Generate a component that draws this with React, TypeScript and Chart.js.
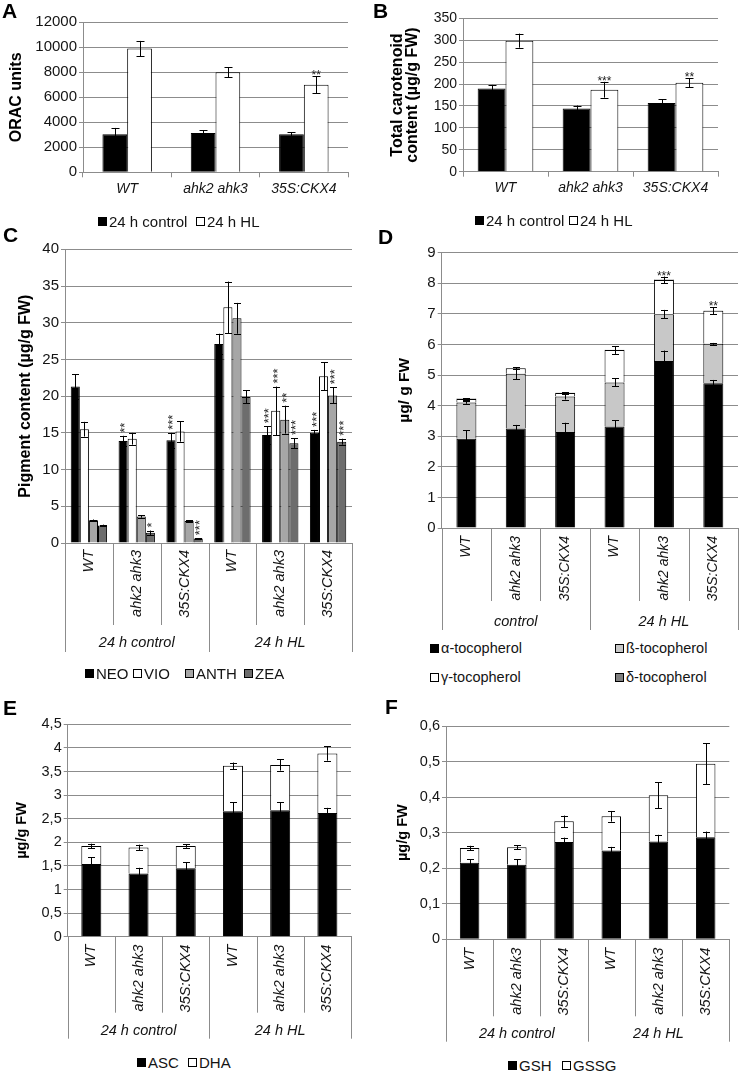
import React, { useEffect, useRef } from 'react';
import { Chart, registerables } from 'chart.js';

Chart.register(...registerables);

const FONT = '"Liberation Sans", Arial, Helvetica, sans-serif';
const GRID = '#8c8c8c';
const TXT = '#141414';

// ---------- data ----------
const genotypes = ['WT', 'ahk2 ahk3', '35S:CKX4'];
const genotypes6 = ['WT', 'ahk2 ahk3', '35S:CKX4', 'WT', 'ahk2 ahk3', '35S:CKX4'];
const periodsCEF = ['24 h control', '24 h HL'];
const periodsD = ['control', '24 h HL'];
const treatmentLabels = ['24 h control', '24 h HL'];

// A: ORAC units
const oracControl = [3050, 3150, 3050];
const oracControlErr = [500, 220, 170];
const oracHL = [9900, 8000, 7000];
const oracHLErr = [610, 400, 670];
const oracHLSig = ['', '', '**'];

// B: total carotenoids
const carControl = [190, 144, 157];
const carControlErr = [8, 7, 8];
const carHL = [299, 187, 203];
const carHLErr = [16, 18, 10];
const carHLSig = ['', '***', '**'];

// C: pigments
const pigmentNames = ['NEO', 'VIO', 'ANTH', 'ZEA'];
const neo = [21.3, 13.9, 14.0, 27.1, 14.7, 15.0];
const neoErr = [1.7, 0.7, 1.0, 1.4, 1.2, 0.4];
const neoSig = ['', '**', '***', '', '***', '***'];
const vio = [15.5, 14.2, 15.2, 32.1, 18.0, 22.7];
const vioErr = [1.0, 0.8, 1.4, 3.5, 3.3, 1.9];
const vioSig = ['', '', '', '', '***', ''];
const anth = [3.1, 3.6, 3.0, 30.6, 16.8, 20.1];
const anthErr = [0.1, 0.15, 0.1, 2.1, 1.9, 1.1];
const anthSig = ['', '', '', '', '**', '***'];
const zea = [2.4, 1.4, 0.6, 19.9, 13.6, 13.8];
const zeaErr = [0.1, 0.3, 0.05, 0.9, 0.7, 0.4];
const zeaSig = ['', '*', '***', '', '***', '***'];

// D: tocopherols
const tocoNames = ['α-tocopherol', 'ß-tocopherol', 'γ-tocopherol', 'δ-tocopherol'];
const alphaT = [2.92, 3.25, 3.14, 3.32, 5.46, 4.73];
const alphaTErr = [0.27, 0.12, 0.3, 0.2, 0.34, 0.11];
const betaT = [1.18, 1.79, 1.16, 1.44, 1.53, 1.29];
const betaTErr = [0.04, 0.17, 0.1, 0.13, 0.14, 0.03];
const gammaT = [0.12, 0.18, 0.11, 1.06, 1.12, 1.08];
const gammaTErr = [0.02, 0.03, 0.03, 0.13, 0.11, 0.12];
const gammaTSig = ['', '', '', '', '***', '**'];
const deltaT = [0.01, 0.01, 0.01, 0.01, 0.01, 0.01];

// E: ascorbate
const ascNames = ['ASC', 'DHA'];
const asc = [1.54, 1.34, 1.45, 2.66, 2.68, 2.62];
const ascErr = [0.14, 0.12, 0.13, 0.19, 0.17, 0.11];
const dha = [0.38, 0.55, 0.47, 0.96, 0.96, 1.26];
const dhaErr = [0.05, 0.06, 0.035, 0.07, 0.12, 0.15];

// F: glutathione
const gshNames = ['GSH', 'GSSG'];
const gsh = [0.215, 0.21, 0.274, 0.25, 0.275, 0.287];
const gshErr = [0.01, 0.015, 0.012, 0.01, 0.019, 0.016];
const gssg = [0.042, 0.049, 0.058, 0.096, 0.13, 0.207];
const gssgErr = [0.006, 0.006, 0.016, 0.015, 0.037, 0.058];

// ---------- colours ----------
const BLACK = '#000000';
const WHITE = '#ffffff';
const ANTH_GRAY = '#a6a6a6';
const ZEA_GRAY = '#6d6d6d';
const BETA_GRAY = '#c8c8c8';
const DELTA_GRAY = '#7f7f7f';

// ---------- plugins ----------
const errorBarPlugin = {
  id: 'errbars',
  afterDatasetsDraw(chart: any, _args: any, opts: any) {
    const { ctx } = chart;
    const ys = chart.scales.y;
    const cap = opts.cap ?? 4;
    const pxFor = (e: number) => Math.abs(ys.getPixelForValue(0) - ys.getPixelForValue(e));
    ctx.save();
    ctx.strokeStyle = '#000';
    ctx.lineWidth = 1;
    chart.data.datasets.forEach((ds: any, di: number) => {
      if (!ds.errors) return;
      const meta = chart.getDatasetMeta(di);
      meta.data.forEach((el: any, i: number) => {
        const e = ds.errors[i];
        if (!e) return;
        const px = pxFor(e);
        const x = Math.round(el.x) + 0.5;
        const t = el.y;
        ctx.beginPath();
        ctx.moveTo(x, t - px);
        ctx.lineTo(x, t + px);
        ctx.moveTo(x - cap, Math.round(t - px) + 0.5);
        ctx.lineTo(x + cap, Math.round(t - px) + 0.5);
        ctx.moveTo(x - cap, Math.round(t + px) + 0.5);
        ctx.lineTo(x + cap, Math.round(t + px) + 0.5);
        ctx.stroke();
      });
    });
    ctx.fillStyle = '#222';
    ctx.font = `${opts.sigSize ?? 12}px ${FONT}`;
    chart.data.datasets.forEach((ds: any, di: number) => {
      if (!ds.sig) return;
      const meta = chart.getDatasetMeta(di);
      meta.data.forEach((el: any, i: number) => {
        const s = ds.sig[i];
        if (!s) return;
        const e = ds.errors ? ds.errors[i] || 0 : 0;
        const top = el.y - pxFor(e);
        if (opts.sigRotate) {
          ctx.save();
          ctx.translate(el.x + 2.5, top - 3);
          ctx.rotate(-Math.PI / 2);
          ctx.textAlign = 'left';
          ctx.textBaseline = 'middle';
          ctx.fillText(s, 0, 0);
          ctx.restore();
        } else {
          ctx.textAlign = 'center';
          ctx.textBaseline = 'alphabetic';
          ctx.fillText(s, el.x, top + 3);
        }
      });
    });
    ctx.restore();
  },
};

const groupAxisPlugin = {
  id: 'groupAxis',
  afterDraw(chart: any, _args: any, opts: any) {
    const { ctx } = chart;
    const xs = chart.scales.x;
    const n = chart.data.labels.length;
    const groups: string[] = opts.groups;
    const size = n / groups.length;
    const w = (xs.right - xs.left) / n;
    const y0 = chart.chartArea.bottom;
    ctx.save();
    ctx.strokeStyle = GRID;
    ctx.lineWidth = 1;
    for (let k = 0; k <= n; k++) {
      const px = Math.round(xs.left + k * w) + 0.5;
      const len = k % size === 0 ? opts.outer : opts.inner;
      ctx.beginPath();
      ctx.moveTo(px, y0);
      ctx.lineTo(px, y0 + len);
      ctx.stroke();
    }
    ctx.fillStyle = TXT;
    ctx.font = `italic ${opts.fontSize}px ${FONT}`;
    ctx.textAlign = 'center';
    ctx.textBaseline = 'middle';
    groups.forEach((g, gi) => {
      const cx = xs.left + (gi * size + size / 2) * w;
      ctx.fillText(g, cx, y0 + opts.labelY);
    });
    ctx.restore();
  },
};

// ---------- panel layout ----------
type Spec = {
  left: number; top: number; w: number; h: number;
  area: { l: number; t: number; r: number; b: number };
  title: string | string[]; titleX: number; titleSize: number; titleLH: number;
  yMax: number; yStep: number; tickSize: number; comma?: boolean;
  labels: string[]; xSize: number; xPad: number;
  datasets: any[]; stacked: boolean; catPct: number; barPct: number;
  cap: number; sigRotate?: boolean; sigSize?: number;
  groups?: string[]; groupOpts?: { inner: number; outer: number; labelY: number; fontSize: number };
};

function buildConfig(p: Spec): any {
  const titleLine = p.titleSize * p.titleLH;
  const padLeft = p.titleX - p.left - (titleLine / 2 + 4);
  const padTop = p.area.t - p.top;
  const padRight = p.left + p.w - p.area.r;
  const yWidth = p.area.l - p.left - padLeft;
  const xHeight = p.top + p.h - p.area.b;
  const rotated = !!p.groups;
  return {
    type: 'bar',
    data: { labels: p.labels, datasets: p.datasets },
    options: {
      responsive: false,
      maintainAspectRatio: false,
      animation: false,
      devicePixelRatio: 1,
      layout: { padding: { left: padLeft, top: padTop, right: padRight, bottom: 0 } },
      datasets: { bar: { categoryPercentage: p.catPct, barPercentage: p.barPct, borderColor: '#000', borderWidth: 1 } },
      plugins: {
        legend: { display: false },
        tooltip: { enabled: false },
        errbars: { cap: p.cap, sigRotate: p.sigRotate, sigSize: p.sigSize },
        groupAxis: { groups: p.groups, ...(p.groupOpts || {}) },
      },
      scales: {
        x: {
          stacked: p.stacked,
          offset: true,
          grid: { offset: true, drawOnChartArea: false, drawTicks: !rotated, tickLength: 5, color: GRID, lineWidth: 1 },
          border: { display: true, color: GRID, width: 1 },
          ticks: {
            autoSkip: false,
            minRotation: rotated ? 90 : 0,
            maxRotation: rotated ? 90 : 0,
            padding: p.xPad,
            color: TXT,
            font: { family: FONT, size: p.xSize, style: 'italic' },
          },
          afterFit: (s: any) => { s.height = xHeight; },
        },
        y: {
          stacked: p.stacked,
          min: 0,
          max: p.yMax,
          ticks: {
            stepSize: p.yStep,
            padding: 2,
            color: TXT,
            font: { family: FONT, size: p.tickSize },
            callback: (v: number) => {
              const r = Math.round(v * 1000) / 1000;
              return p.comma ? String(r).replace('.', ',') : String(r);
            },
          },
          grid: { color: GRID, lineWidth: 1, drawTicks: true, tickLength: 4 },
          border: { display: true, color: GRID, width: 1 },
          title: {
            display: true,
            text: p.title,
            color: '#000',
            padding: { top: 4, bottom: 4 },
            font: { family: FONT, size: p.titleSize, weight: 'bold', lineHeight: p.titleLH },
          },
          afterFit: (s: any) => { s.width = yWidth; },
        },
      },
    },
    plugins: rotated ? [errorBarPlugin, groupAxisPlugin] : [errorBarPlugin],
  };
}

const bar = (label: string, data: number[], color: string, errors?: number[], sig?: string[]) => ({
  label, data, backgroundColor: color, borderColor: '#000', borderWidth: 1, errors, sig,
});

const specs: Spec[] = [
  {
    left: 0, top: 0, w: 370, h: 205,
    area: { l: 83, t: 22.3, r: 348, b: 172.3 },
    title: 'ORAC units', titleX: 17, titleSize: 16, titleLH: 1.2,
    yMax: 12000, yStep: 2000, tickSize: 15,
    labels: genotypes, xSize: 14, xPad: 3,
    datasets: [
      bar(treatmentLabels[0], oracControl, BLACK, oracControlErr),
      bar(treatmentLabels[1], oracHL, WHITE, oracHLErr, oracHLSig),
    ],
    stacked: false, catPct: 0.56, barPct: 1, cap: 4, sigSize: 12,
  },
  {
    left: 370, top: 0, w: 370, h: 205,
    area: { l: 463, t: 18.3, r: 718, b: 171.7 },
    title: ['Total carotenoid', 'content (µg/g FW)'], titleX: 398, titleSize: 16, titleLH: 0.94,
    yMax: 350, yStep: 50, tickSize: 14,
    labels: genotypes, xSize: 14, xPad: 3,
    datasets: [
      bar(treatmentLabels[0], carControl, BLACK, carControlErr),
      bar(treatmentLabels[1], carHL, WHITE, carHLErr, carHLSig),
    ],
    stacked: false, catPct: 0.655, barPct: 1, cap: 4, sigSize: 12,
  },
  {
    left: 0, top: 225, w: 370, h: 440,
    area: { l: 65, t: 249.3, r: 352, b: 543 },
    title: 'Pigment content (µg/g FW)', titleX: 26, titleSize: 16, titleLH: 1.2,
    yMax: 40, yStep: 5, tickSize: 15,
    labels: genotypes6, xSize: 14.5, xPad: 7,
    datasets: [
      bar(pigmentNames[0], neo, BLACK, neoErr, neoSig),
      bar(pigmentNames[1], vio, WHITE, vioErr, vioSig),
      bar(pigmentNames[2], anth, ANTH_GRAY, anthErr, anthSig),
      bar(pigmentNames[3], zea, ZEA_GRAY, zeaErr, zeaSig),
    ],
    stacked: false, catPct: 0.76, barPct: 1, cap: 3.5, sigRotate: true, sigSize: 13,
    groups: periodsCEF, groupOpts: { inner: 82, outer: 109, labelY: 100, fontSize: 14.5 },
  },
  {
    left: 370, top: 228, w: 370, h: 410,
    area: { l: 441.7, t: 252.7, r: 738, b: 528 },
    title: 'µg/ g FW', titleX: 405, titleSize: 15.5, titleLH: 1.2,
    yMax: 9, yStep: 1, tickSize: 15,
    labels: genotypes6, xSize: 14, xPad: 8,
    datasets: [
      bar(tocoNames[0], alphaT, BLACK, alphaTErr),
      bar(tocoNames[1], betaT, BETA_GRAY, betaTErr),
      bar(tocoNames[2], gammaT, WHITE, gammaTErr, gammaTSig),
      bar(tocoNames[3], deltaT, DELTA_GRAY),
    ],
    stacked: true, catPct: 1, barPct: 0.405, cap: 3.5, sigSize: 12,
    groups: periodsD, groupOpts: { inner: 73, outer: 102, labelY: 94, fontSize: 14.5 },
  },
  {
    left: 0, top: 695, w: 370, h: 355,
    area: { l: 67.7, t: 724.3, r: 351, b: 936.7 },
    title: 'µg/g FW', titleX: 21.7, titleSize: 14.5, titleLH: 1.2,
    yMax: 4.5, yStep: 0.5, tickSize: 14.5, comma: true,
    labels: genotypes6, xSize: 14.5, xPad: 8,
    datasets: [
      bar(ascNames[0], asc, BLACK, ascErr),
      bar(ascNames[1], dha, WHITE, dhaErr),
    ],
    stacked: true, catPct: 1, barPct: 0.424, cap: 3.5,
    groups: periodsCEF, groupOpts: { inner: 76, outer: 102, labelY: 94, fontSize: 14.5 },
  },
  {
    left: 370, top: 695, w: 370, h: 355,
    area: { l: 446, t: 726, r: 729.3, b: 939.3 },
    title: 'µg/g FW', titleX: 403, titleSize: 14.5, titleLH: 1.2,
    yMax: 0.6, yStep: 0.1, tickSize: 14.5, comma: true,
    labels: genotypes6, xSize: 14.5, xPad: 8.5,
    datasets: [
      bar(gshNames[0], gsh, BLACK, gshErr),
      bar(gshNames[1], gssg, WHITE, gssgErr),
    ],
    stacked: true, catPct: 1, barPct: 0.413, cap: 3.5,
    groups: periodsCEF, groupOpts: { inner: 77, outer: 102.4, labelY: 94.7, fontSize: 14.5 },
  },
];

// ---------- legends & panel letters ----------
type LegendItem = { text: string; color: string; x: number; y: number; size: number };
const legends: LegendItem[] = [
  { text: treatmentLabels[0], color: BLACK, x: 98, y: 221, size: 15 },
  { text: treatmentLabels[1], color: WHITE, x: 196, y: 221, size: 15 },
  { text: treatmentLabels[0], color: BLACK, x: 475, y: 220, size: 15 },
  { text: treatmentLabels[1], color: WHITE, x: 569, y: 220, size: 15 },
  { text: pigmentNames[0], color: BLACK, x: 85, y: 673, size: 15 },
  { text: pigmentNames[1], color: WHITE, x: 133, y: 673, size: 15 },
  { text: pigmentNames[2], color: ANTH_GRAY, x: 185, y: 673, size: 15 },
  { text: pigmentNames[3], color: ZEA_GRAY, x: 244, y: 673, size: 15 },
  { text: tocoNames[0], color: BLACK, x: 430, y: 648, size: 14.5 },
  { text: tocoNames[1], color: BETA_GRAY, x: 615, y: 648, size: 14.5 },
  { text: tocoNames[2], color: WHITE, x: 430, y: 677, size: 14.5 },
  { text: tocoNames[3], color: DELTA_GRAY, x: 615, y: 677, size: 14.5 },
  { text: ascNames[0], color: BLACK, x: 137, y: 1062, size: 15 },
  { text: ascNames[1], color: WHITE, x: 188, y: 1062, size: 15 },
  { text: gshNames[0], color: BLACK, x: 508, y: 1065, size: 15 },
  { text: gshNames[1], color: WHITE, x: 562, y: 1065, size: 15 },
];

const letters = [
  { t: 'A', x: 2, y: 0 },
  { t: 'B', x: 373, y: 0 },
  { t: 'C', x: 3, y: 224 },
  { t: 'D', x: 378, y: 226 },
  { t: 'E', x: 3, y: 697 },
  { t: 'F', x: 385, y: 696 },
];

function Panel({ spec }: { spec: Spec }) {
  const ref = useRef<HTMLCanvasElement>(null);
  useEffect(() => {
    const chart = new Chart(ref.current as HTMLCanvasElement, buildConfig(spec));
    return () => chart.destroy();
  }, [spec]);
  return (
    <canvas
      ref={ref}
      width={spec.w}
      height={spec.h}
      style={{ position: 'absolute', left: spec.left, top: spec.top, width: spec.w, height: spec.h }}
    />
  );
}

export default function App() {
  return (
    <div
      style={{
        position: 'absolute', left: 0, top: 0, width: 740, height: 1071,
        background: '#fff', overflow: 'hidden', fontFamily: FONT,
      }}
    >
      {specs.map((s, i) => <Panel key={i} spec={s} />)}
      {letters.map((l) => (
        <div
          key={l.t}
          style={{
            position: 'absolute', left: l.x, top: l.y, fontSize: 21, lineHeight: '21px',
            fontWeight: 'bold', color: '#000', fontFamily: FONT,
          }}
        >
          {l.t}
        </div>
      ))}
      {legends.map((it, i) => (
        <div
          key={i}
          style={{
            position: 'absolute', left: it.x, top: it.y - 9, height: 18, display: 'flex',
            alignItems: 'center', fontSize: it.size, color: '#141414', whiteSpace: 'nowrap', fontFamily: FONT,
          }}
        >
          <span
            style={{
              display: 'inline-block', width: 9, height: 9, boxSizing: 'border-box',
              border: '1px solid #000', background: it.color, marginRight: 2,
            }}
          />
          {it.text}
        </div>
      ))}
    </div>
  );
}
